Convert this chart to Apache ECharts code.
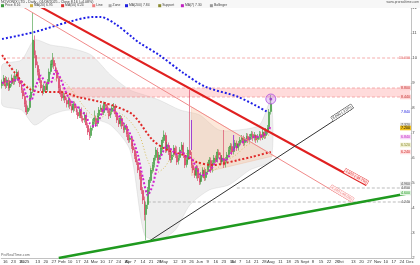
<!DOCTYPE html>
<html><head><meta charset="utf-8">
<script src="https://cdn.jsdelivr.net/npm/echarts/dist/echarts.min.js"></script>
<style>html,body{margin:0;padding:0;background:#fff}#c{width:420px;height:265px}</style>
</head><body><div id="c"></div>
<script>
// ---------- DATA ----------
const opens=[8.90,9.02,9.18,8.90,9.10,8.82,8.98,9.18,9.06,9.26,
9.42,9.10,8.94,8.70,8.46,8.14,7.86,8.02,8.42,8.70,
10.70,10.10,9.70,9.42,9.10,8.78,8.66,8.86,8.74,9.06,
9.46,9.74,9.90,9.66,9.50,9.18,8.78,8.58,8.42,8.46,
8.30,8.14,8.30,8.06,7.94,8.14,7.98,7.82,7.70,7.90,
7.58,7.54,7.70,7.30,7.06,6.90,7.22,7.46,7.58,7.38,
7.70,7.94,7.98,7.82,8.14,8.06,7.90,7.70,7.86,8.02,
8.06,7.74,7.50,7.38,7.58,7.26,7.14,7.26,6.94,6.74,
6.78,6.46,6.30,6.06,5.82,5.50,5.26,4.70,4.30,3.74,
4.14,4.74,5.10,5.50,5.74,6.02,6.30,5.94,6.14,6.42,
6.70,6.90,6.34,6.50,6.22,5.94,6.14,6.38,6.10,5.86,
6.02,6.34,6.50,6.10,5.74,5.94,6.30,6.10,5.70,5.50,
5.30,5.58,5.18,5.06,5.34,5.50,5.22,5.46,5.74,5.90,
5.54,5.82,5.98,5.94,6.22,6.10,5.86,5.98,5.74,5.94,
6.14,6.34,6.46,6.26,6.46,6.58,6.42,6.58,6.74,6.78,
6.62,6.74,6.86,6.74,6.86,6.94,6.82,6.90,6.74,6.86,
6.94,6.82,7.02,6.90,7.06,7.22,7.86];
const closes=[9.04,9.20,8.88,9.12,8.80,8.96,9.20,9.04,9.28,9.44,
9.12,8.96,8.72,8.48,8.16,7.84,8.00,8.40,8.64,10.72,
10.12,9.72,9.44,9.12,8.80,8.64,8.88,8.72,9.04,9.44,
9.76,9.92,9.68,9.52,9.20,8.80,8.56,8.40,8.48,8.32,
8.16,8.32,8.08,7.92,8.16,8.00,7.84,7.68,7.92,7.60,
7.52,7.72,7.32,7.04,6.88,7.20,7.44,7.60,7.36,7.68,
7.92,8.00,7.84,8.16,8.08,7.92,7.68,7.84,8.00,8.08,
7.76,7.52,7.36,7.60,7.28,7.12,7.28,6.96,6.72,6.80,
6.48,6.32,6.08,5.84,5.52,5.28,4.72,4.32,3.72,4.12,
4.72,5.12,5.52,5.72,6.00,6.32,5.92,6.12,6.40,6.72,
6.92,6.32,6.52,6.24,5.92,6.12,6.40,6.12,5.84,6.00,
6.32,6.52,6.12,5.72,5.92,6.32,6.12,5.72,5.52,5.32,
5.60,5.20,5.04,5.32,5.52,5.20,5.44,5.72,5.92,5.52,
5.80,6.00,5.92,6.24,6.12,5.84,6.00,5.72,5.92,6.12,
6.32,6.48,6.24,6.44,6.60,6.40,6.56,6.72,6.80,6.60,
6.72,6.88,6.72,6.84,6.96,6.80,6.92,6.72,6.84,6.96,
6.80,7.04,6.88,7.08,7.20,7.84,8.16];
const highs=[9.14,9.32,9.28,9.24,9.22,9.06,9.34,9.30,9.40,9.56,
9.50,9.24,9.04,8.82,8.58,8.30,8.10,8.52,8.78,11.80,
10.90,10.30,9.86,9.56,9.22,8.92,8.98,8.98,9.16,9.58,
9.90,10.20,10.02,9.80,9.62,9.30,8.92,8.70,8.62,8.60,
8.42,8.44,8.42,8.18,8.28,8.26,8.10,7.94,8.06,8.02,
7.70,7.84,7.82,7.42,7.18,7.30,7.56,7.90,7.70,7.80,
8.04,8.14,8.10,8.26,8.24,8.20,8.02,7.96,8.12,8.20,
8.16,7.86,7.62,7.72,7.68,7.38,7.40,7.36,7.06,6.92,
6.90,6.60,6.42,6.18,5.94,5.62,5.40,4.84,4.46,4.26,
4.84,5.24,5.62,5.84,6.12,6.44,6.40,6.24,6.52,6.84,
7.10,7.02,6.64,6.62,6.34,6.24,6.52,6.50,6.46,6.12,
6.44,6.64,6.62,6.22,6.04,6.44,8.72,6.24,5.82,5.62,
5.72,5.70,5.30,5.44,5.64,5.62,5.56,5.84,6.04,6.02,
5.92,6.12,6.10,6.36,6.34,6.22,6.12,7.12,6.04,6.24,
6.44,6.60,6.58,6.56,6.72,6.70,6.68,6.84,6.92,6.90,
6.84,7.00,6.98,6.96,7.08,7.06,7.04,6.94,6.96,7.08,
7.06,7.16,7.14,7.20,7.32,7.96,8.52];
const lows=[8.78,8.90,8.76,8.80,8.68,8.70,8.86,8.92,8.94,9.14,
9.00,8.84,8.60,8.36,8.04,7.72,7.76,7.90,8.30,8.60,
10.00,9.60,9.30,9.00,8.68,8.50,8.56,8.60,8.64,8.94,
9.34,9.62,9.56,9.40,9.06,8.66,8.44,8.28,8.30,8.20,
8.02,8.02,7.96,7.80,7.82,7.88,7.72,7.56,7.60,7.46,
7.40,7.42,7.20,6.92,6.72,6.80,7.10,7.34,7.24,7.26,
7.58,7.84,7.72,7.72,7.96,7.80,7.56,7.60,7.74,7.90,
7.64,7.40,7.24,7.26,7.16,7.00,7.02,6.84,6.60,6.62,
6.36,6.20,5.96,5.72,5.40,5.14,4.56,4.16,3.50,2.72,
3.96,4.60,5.00,5.38,5.62,5.90,5.80,5.82,6.02,6.30,
6.60,6.20,6.22,6.12,5.80,5.82,6.04,6.00,5.72,5.74,
5.90,6.20,6.00,5.60,5.62,5.82,5.98,5.60,5.40,5.20,
5.18,5.08,4.92,4.94,5.22,5.08,5.10,5.34,5.62,5.40,
5.42,5.70,5.80,5.82,6.00,5.72,5.74,5.60,5.62,5.82,
6.02,6.22,6.12,6.14,6.34,6.28,6.30,6.46,6.62,6.48,
6.50,6.62,6.60,6.62,6.74,6.68,6.70,6.60,6.62,6.74,
6.70,6.72,6.76,6.78,6.94,7.10,7.74];

// moving averages [barIndex, value]
const maBlue=[[0,10.76],[20,11.04],[41,11.44],[56,11.64],[61,11.64],[70,11.36],[81,10.80],[85,10.60],[97,10.12],[112,9.40],[126,8.84],[146,8.44],[164,7.84]];
const maRed=[[0,10.12],[8,9.40],[16,8.80],[24,8.64],[36,8.64],[47,8.44],[61,8.24],[71,8.04],[81,7.72],[93,6.72],[102,6.32],[112,6.12],[120,5.84],[130,5.72],[138,5.80],[146,5.92],[154,6.04],[166,6.24]];
const maMagenta=[[0,9.00],[3,9.05],[6,9.05],[9,9.15],[12,9.05],[15,8.50],[18,8.30],[21,8.90],[24,9.30],[27,9.00],[30,9.00],[33,9.50],[36,9.20],[39,8.70],[42,8.30],[45,8.15],[48,7.95],[51,7.75],[54,7.40],[57,7.25],[60,7.55],[63,7.95],[66,7.95],[69,7.90],[72,7.70],[75,7.40],[78,7.10],[81,6.70],[84,6.10],[87,5.20],[90,4.50],[93,4.90],[96,5.70],[99,6.20],[102,6.50],[105,6.30],[108,6.15],[111,6.25],[114,6.05],[117,6.00],[120,5.60],[123,5.30],[126,5.35],[129,5.55],[132,5.85],[135,6.00],[138,5.90],[141,6.15],[144,6.40],[147,6.55],[150,6.70],[153,6.78],[156,6.85],[159,6.85],[162,6.92],[165,7.15],[166,7.30]];
const maYellow=[[0,8.95],[5,9.05],[10,9.10],[15,8.90],[20,8.80],[25,9.00],[30,9.05],[35,9.20],[40,8.95],[45,8.55],[50,8.10],[55,7.75],[60,7.60],[65,7.75],[70,7.85],[75,7.70],[80,7.40],[85,6.90],[90,5.90],[95,5.40],[100,5.60],[105,6.05],[110,6.20],[115,6.15],[120,5.90],[125,5.55],[130,5.50],[135,5.70],[140,5.95],[145,6.15],[150,6.45],[155,6.65],[160,6.80],[166,6.95]];
const bbUpper=[[0,9.72],[12,9.92],[20,10.72],[30,10.52],[42,10.40],[55,10.12],[67,9.32],[79,8.72],[88,8.52],[97,8.32],[110,7.92],[122,7.72],[134,7.12],[146,7.12],[159,7.32],[166,8.32]];
const bbLower=[[0,8.12],[12,7.92],[20,7.32],[30,7.72],[42,7.92],[55,7.60],[67,7.32],[79,6.32],[88,2.92],[97,2.72],[107,3.12],[116,4.12],[128,4.72],[140,4.92],[153,5.52],[166,5.92]];

// drawn objects [barIndex, price]
const trendRed=[[24,12.04],[225,4.92]];
const trendSalmon=[[13,12.04],[216,4.24]];
const trendBlack=[[90,2.64],[217,8.00]];
const trendGreen=[[35,2.00],[252,4.60]];
const lvlPink=[[0,10.00],[252,10.00]];
const zoneTop=[[37,8.80],[252,8.80]];
const zoneBottom=[[37,8.44],[252,8.44]];
const lvlGray1=[[145,4.80],[252,4.80]];
const lvlGray2=[[90,4.24],[252,4.24]];
const triangle=[[117,8.04],[168,6.09],[117,5.30]];
const purpleMarks=[[[117,7.52],[117,6.32]],[[143,6.92],[143,6.32]]];
const signalPoint=[[166,8.36]];

// right-side value tags: value, text, text colour, background
const tags=[[10.00,'10.000','#e06060',null],[8.80,'8.800','#c03030','#ffd4d4'],[8.44,'8.440','#c03030','#ffd4d4'],
 [7.84,'7.840','#2020e0',null],[7.32,'7.320','#555','#e4e4e4'],[7.20,'7.200','#000','#f0c020'],[6.84,'6.840','#c020c0','#f8d8f8'],
 [6.52,'6.520','#8a8a30','#f0f0d0'],[6.24,'6.240','#d02020','#ffe0e0'],[4.96,'4.960','#555','#e8e8e8'],[4.80,'4.800','#555',null],[4.24,'4.240','#555',null],[4.60,'4.600','#1f9a1f','#e0f4e0']];
const legendItems=[['#3c9b3c','Price 8.16'],['#d0b040','MA(20) 6.95'],['#e03030','MA(50) 6.24'],['#f08080','Line'],['#aaa','Zone'],['#2020e0','MA(200) 7.84'],['#8a8a30','Support'],['#c020c0','MA(7) 7.30'],['#999','Bollinger']];
const MONTHS=['Jan','Feb','Mar','Apr','May','Jun','Jul','Aug','Sept','Oct','Nov','Dec'];
const nCats=253;

// ---------- CATEGORIES ----------
const cats=[]; {let d=new Date(Date.UTC(2024,11,12)); while(cats.length<nCats){const w=d.getUTCDay(); if(w!==0&&w!==6) cats.push(d.toISOString().slice(0,10)); d.setUTCDate(d.getUTCDate()+1);} }
const labelText=[]; {let lastM=-10; cats.forEach((s,i)=>{const m=+s.slice(5,7)-1, day=+s.slice(8,10); const pm=i>0?+cats[i-1].slice(5,7)-1:m; const dow=new Date(s+'T00:00:00Z').getUTCDay();
 if(i>0&&m!==pm){labelText.push(m===0?s.slice(0,4):MONTHS[m]); lastM=i;} else if(dow===1&&i-lastM>=4) labelText.push(String(day)); else labelText.push('');});}

// ---------- CHART ----------
const chart=echarts.init(document.getElementById('c'),null,{renderer:'canvas'});
const candleData=opens.map((o,i)=>[o,closes[i],lows[i],highs[i]]);
function lineS(data,color,width,type,z,smooth){return {type:'line',data,symbol:'none',smooth:smooth||0,lineStyle:{color,width,type,cap:'butt'},silent:true,animation:false,clip:true,z};}
function poly(points,fill,stroke,z,smooth){return {type:'custom',data:[[0,0]],clip:true,z,silent:true,animation:false,
 renderItem:(p,api)=>({type:'polygon',shape:{points:points.map(q=>api.coord(q)),smooth:smooth||0},style:{fill,stroke:stroke||'none',lineWidth:0.5}})};}
const series=[
 poly(bbUpper.concat(bbLower.slice().reverse()),'rgba(200,200,200,0.30)','rgba(175,175,175,0.45)',1,0.25),
 poly([zoneTop[0],zoneTop[1],zoneBottom[1],zoneBottom[0]],'rgba(255,160,160,0.38)',null,1),
 poly(triangle,'rgba(250,190,150,0.35)','rgba(240,160,120,0.5)',1),
 lineS(lvlPink,'#f29a9a',0.8,[3,2],2),
 lineS(zoneTop,'#f29a9a',0.8,[3,2],2),
 lineS(zoneBottom,'#f29a9a',0.8,[3,2],2),
 lineS(lvlGray1,'#aaaaaa',0.8,[3,2],2),
 lineS(lvlGray2,'#aaaaaa',0.8,[3,2],2),
 {type:'candlestick',data:candleData,barWidth:1.4,animation:false,silent:true,z:3,
  itemStyle:{color:'#3c9b3c',color0:'#d8365a',borderColor:'#3c9b3c',borderColor0:'#d8365a',borderWidth:0.6}},
 lineS(maYellow,'#d8c060',1,[1,2],4,0.3),
 lineS(maRed,'#e02828',2,[2,2],4,0.3),
 lineS(maMagenta,'#d020d0',2,[2,2],4,0.2),
 lineS(maBlue,'#1f1fe6',2,[2,2],4,0.3),
 lineS(trendSalmon,'#f08a8a',1,'solid',5),
 lineS(trendRed,'#e02020',2,'solid',5),
 lineS(trendBlack,'#333333',1,'solid',5),
 lineS(trendGreen,'#1f9a1f',2.5,'solid',5),
 ...purpleMarks.map(m=>lineS(m,'#a040d0',1,'solid',5)),
 {type:'scatter',data:signalPoint,symbolSize:10,z:6,silent:true,animation:false,itemStyle:{color:'rgba(200,130,230,0.45)',borderColor:'#b050e0',borderWidth:1}},
 {type:'scatter',data:signalPoint,symbolSize:3,z:7,silent:true,animation:false,itemStyle:{color:'#9030c0'}}
];
chart.setOption({
 animation:false,backgroundColor:'#fff',
 grid:{left:0,right:8,top:8,bottom:7},
 xAxis:{type:'category',data:cats,boundaryGap:true,
  axisLine:{lineStyle:{color:'#999',width:0.6}},
  axisTick:{interval:(i)=>labelText[i]!=='',length:2,lineStyle:{color:'#999',width:0.5}},
  axisLabel:{interval:(i)=>labelText[i]!=='',formatter:(v,i)=>labelText[i],fontSize:4.2,color:'#333',margin:1.5,hideOverlap:false,fontFamily:'Liberation Sans'},
  splitLine:{show:false}},
 yAxis:{type:'value',position:'right',min:2,max:12,interval:1,scale:false,
  axisLine:{show:true,lineStyle:{color:'#999',width:0.6}},axisTick:{show:true,length:1.5,lineStyle:{color:'#999',width:0.5}},
  axisLabel:{fontSize:4.2,color:'#444',margin:1.5,fontFamily:'Liberation Sans'},splitLine:{show:false}},
 series
});

// ---------- TEXT OVERLAYS ----------
const g=[];
g.push({type:'rect',shape:{x:0,y:0,width:420,height:8},style:{fill:'#f7f7f7'},z:50});
g.push({type:'text',x:1,y:0.3,style:{text:'NOVONIX LTD - Daily - 01/08/2025 - Close 8.16 (+4.08%)',fontSize:3.6,fill:'#333',fontFamily:'Liberation Sans'},z:51});
g.push({type:'text',x:419,y:0.3,style:{text:'www.prorealtime.com',fontSize:3.4,fill:'#555',align:'right',fontFamily:'Liberation Sans'},z:51});
{let x=1; legendItems.forEach(([c,t])=>{g.push({type:'rect',shape:{x,y:4.2,width:3,height:3},style:{fill:c},z:51});
 g.push({type:'text',x:x+4,y:4,style:{text:t,fontSize:3.4,fill:'#444',fontFamily:'Liberation Sans'},z:51}); x+=8+t.length*2.1;});}
g.push({type:'text',x:1,y:253,style:{text:'ProRealTime.com',fontSize:3.6,fill:'#666',fontFamily:'Liberation Sans'},z:51});
tags.forEach(([v,t,fg,bg])=>{const p=chart.convertToPixel({gridIndex:0},[252,v]);
 g.push({type:'text',x:411,y:p[1],style:{text:t,fontSize:3.6,fill:fg,backgroundColor:bg||'transparent',align:'right',verticalAlign:'middle',padding:[0.3,1],fontFamily:'Liberation Sans'},z:52});});
function lineLabel(pts,text,fg,bg){const a=chart.convertToPixel({gridIndex:0},pts[0]),b=chart.convertToPixel({gridIndex:0},pts[1]);
 const ang=-Math.atan2(b[1]-a[1],b[0]-a[0]);
 g.push({type:'text',x:b[0],y:b[1],rotation:ang,style:{text,fontSize:3.6,fill:fg,backgroundColor:bg,borderColor:fg,borderWidth:0.4,align:'right',verticalAlign:'bottom',padding:[0.3,1],fontFamily:'Liberation Sans'},z:52});}
lineLabel(trendRed,'4.920 (-39.7%)','#e02020','#ffe8e8');
lineLabel(trendSalmon,'4.240 (-48.0%)','#f08a8a','#fff0f0');
lineLabel(trendBlack,'8.000 (-2.0%)','#333','rgba(255,255,255,0.8)');
chart.setOption({graphic:g});
</script></body></html>
